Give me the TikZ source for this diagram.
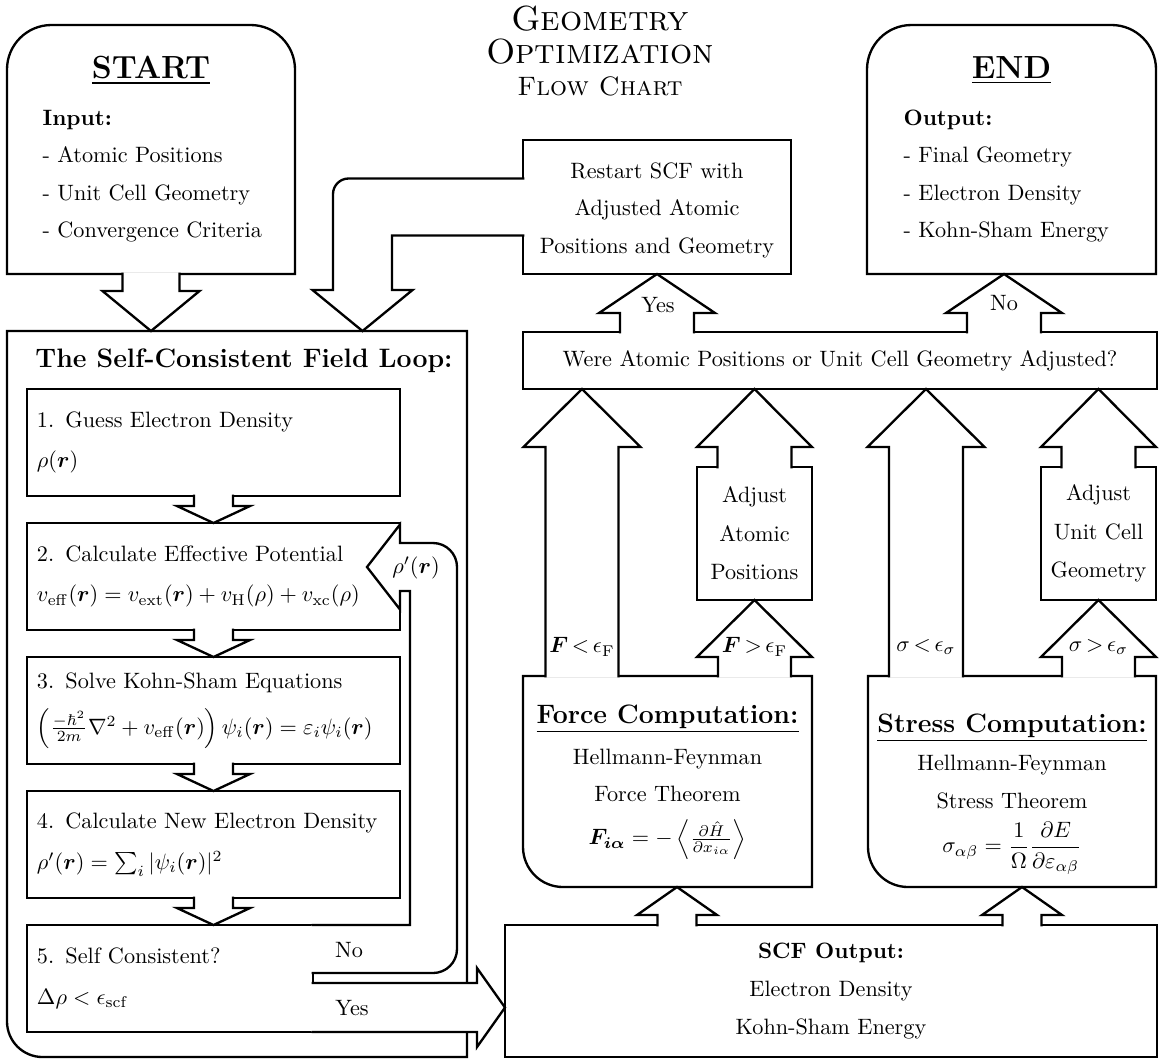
\documentclass[tikz,border=0pt]{standalone}
\usepackage{amsmath, amssymb}
\usepackage{bm}
\usetikzlibrary{calc}
\tikzset{
  box/.style={draw, rectangle, inner sep=0pt, outer sep=0pt, align=center},
  frame/.style={rectangle, inner sep=0pt, outer sep=0pt},
  stepbox/.style={box, align=left, inner xsep=4.5pt, minimum height=48.15pt, text width=158.85pt,
    execute at begin node={\relpenalty=10000\binoppenalty=10000}},
  fat/.style={draw, fill=white},
  titlefont/.style={font=\fontsize{15.7pt}{19pt}\selectfont\scshape, anchor=base}
}
% block arrows: base, tip, half shaft, half head, head length
\newcommand{\fatup}[5]{\draw[fat] ($(#1)+(-#3,1.3)$) -- ($(#2)+(-#3,#5)$) -- ($(#2)+(-#4,#5)$) -- (#2)
  -- ($(#2)+(#4,#5)$) -- ($(#2)+(#3,#5)$) -- ($(#1)+(#3,1.3)$);}
\newcommand{\fatdown}[5]{\draw[fat] ($(#1)+(-#3,-1.3)$) -- ($(#2)+(-#3,-#5)$) -- ($(#2)+(-#4,-#5)$) -- (#2)
  -- ($(#2)+(#4,-#5)$) -- ($(#2)+(#3,-#5)$) -- ($(#1)+(#3,-1.3)$);}
\newcommand{\fatright}[5]{\draw[fat] ($(#1)+(-1.3,-#3)$) -- ($(#2)+(-#5,-#3)$) -- ($(#2)+(-#5,-#4)$) -- (#2)
  -- ($(#2)+(-#5,#4)$) -- ($(#2)+(-#5,#3)$) -- ($(#1)+(-1.3,#3)$);}

\begin{document}
\begin{tikzpicture}[x=0.45pt, y=-0.45pt, line width=1.05pt]
  \useasboundingbox (0,0) rectangle (1162,1059);

  % title
  \node[titlefont] (title1) at (600,30) {Geometry};
  \node[titlefont] (title2) at (600,63) {Optimization};
  \node[font=\large\scshape, anchor=base] (title3) at (600,95) {Flow Chart};

  % start and end
  \node[frame, minimum width=129.6pt, minimum height=112.05pt] (start) at (151,149.5) {};
  \draw (start.south west) -- (start.west) [rounded corners=20pt] -- (start.north west)
    -- (start.north east) -- (start.east) [sharp corners] -- (start.south east) -- cycle;
  \node[font=\Large\bfseries, anchor=base] (starttitle) at (151,78) {\underline{START}};
  \node[font=\bfseries, anchor=base west] (input) at (34,125) {Input:};
  \foreach \t [count=\i] in {Atomic Positions, Unit Cell Geometry, Convergence Criteria}
    \node[anchor=base west] (input\i) at (34,125+37.5*\i) {- \t};

  \node[frame, minimum width=130.05pt, minimum height=112.05pt] (end) at (1011.5,149.5) {};
  \draw (end.south west) -- (end.west) [rounded corners=20pt] -- (end.north west)
    -- (end.north east) -- (end.east) [sharp corners] -- (end.south east) -- cycle;
  \node[font=\Large\bfseries, anchor=base] (endtitle) at (1011.5,78) {\underline{END}};
  \node[font=\bfseries, anchor=base west] (output) at (895,125) {Output:};
  \foreach \t [count=\i] in {Final Geometry, Electron Density, Kohn-Sham Energy}
    \node[anchor=base west] (output\i) at (895,125+37.5*\i) {- \t};

  \node[box, minimum width=120.6pt, minimum height=60.3pt] (restart) at (657,207) {};
  \node[align=center] (restarttext) at (657,210)
    {Restart SCF with\\[4.9pt] Adjusted Atomic\\[4.9pt] Positions and Geometry};
  \node[box, minimum width=285.3pt, minimum height=25.65pt] (were) at (840,360.5)
    {Were Atomic Positions or Unit Cell Geometry Adjusted?};

  % scf loop
  \node[frame, minimum width=207pt, minimum height=326.7pt] (loop) at (237,694) {};
  \draw (loop.north west) -- (loop.north east) -- (loop.south east) -- (loop.south)
    [rounded corners=16pt] -- (loop.south west) -- (loop.west) [sharp corners] -- cycle;
  \node[font=\large\bfseries, anchor=base] (looptitle) at (244,367) {The Self-Consistent Field Loop:};

  \node[stepbox] (s1) at (213.5,442.5) {1. Guess Electron Density\\[6.3pt] $\rho(\bm{r})$};
  \node[stepbox] (s2) at (213.5,576.5) {2. Calculate Effective Potential\\[6.3pt]
    $v_{\mathrm{eff}}(\bm{r}) = v_{\mathrm{ext}}(\bm{r}) + v_{\mathrm{H}}(\rho) + v_{\mathrm{xc}}(\rho)$};
  \node[stepbox] (s3) at (213.5,710.5) {3. Solve Kohn-Sham Equations\\[6.3pt]
    $\left(\frac{-\hbar^2}{2m}\nabla^2 + v_{\mathrm{eff}}(\bm{r})\right)\psi_i(\bm{r}) = \varepsilon_i\psi_i(\bm{r})$};
  \node[stepbox] (s4) at (213.5,844.5) {4. Calculate New Electron Density\\[6.3pt]
    $\rho'(\bm{r}) = \sum_i|\psi_i(\bm{r})|^2$};
  \node[stepbox, text width=119.7pt] (s5) at (170,978.5) {5. Self Consistent?\\[6.3pt]
    $\Delta\rho < \epsilon_{\mathrm{scf}}$};

  % force and stress
  \node[box, minimum width=51.75pt, minimum height=59.85pt] (adjpos) at (754.5,533.5)
    {Adjust\\[5.3pt] Atomic\\[5.3pt] Positions};
  \node[box, minimum width=51.75pt, minimum height=59.85pt] (adjcell) at (1098.5,533.5)
    {Adjust\\[5.3pt] Unit Cell\\[5.3pt] Geometry};

  \node[frame, minimum width=130.05pt, minimum height=94.95pt] (force) at (667.5,781.5) {};
  \draw (force.north west) -- (force.north east) -- (force.south east) -- (force.south)
    [rounded corners=18pt] -- (force.south west) -- (force.west) [sharp corners] -- cycle;
  \node[align=center] (forcetext) at (667.5,782)
    {\underline{\large\bfseries Force Computation:}\\[6.45pt] Hellmann-Feynman\\[4.65pt] Force Theorem\\[7.6pt]
     $\bm{F_{i\alpha}} = -\left\langle \frac{\partial\hat{H}}{\partial x_{i\alpha}} \right\rangle$};

  \node[frame, minimum width=129.6pt, minimum height=94.95pt] (stress) at (1012,781.5) {};
  \draw (stress.north west) -- (stress.north east) -- (stress.south east) -- (stress.south)
    [rounded corners=18pt] -- (stress.south west) -- (stress.west) [sharp corners] -- cycle;
  \node[align=center] (stresstext) at (1012,794)
    {\underline{\large\bfseries Stress Computation:}\\[5.1pt] Hellmann-Feynman\\[5.1pt] Stress Theorem\\[5.2pt]
     $\displaystyle\sigma_{\alpha\beta} = \frac{1}{\Omega}\frac{\partial E}{\partial\varepsilon_{\alpha\beta}}$};

  \node[box, minimum width=293.4pt, minimum height=59.4pt] (scfout) at (831,991)
    {\textbf{SCF Output:}\\[4.9pt] Electron Density\\[4.9pt] Kohn-Sham Energy};

  % arrows
  \fatdown{start.south}{start.south |- loop.north}{28.5}{48.5}{40}
  \coordinate (rx) at (362.5,0);
  \draw[fat] ($(restart.west)+(1.3,-28.5)$) [rounded corners=7pt] -- ($(rx |- restart.west)+(-29.5,-28.5)$)
    -- ($(rx |- loop.north)+(-29.5,-95)$) [sharp corners] -- ($(rx |- loop.north)+(-29.5,-41)$)
    -- ($(rx |- loop.north)+(-50,-41)$) -- (rx |- loop.north) -- ($(rx |- loop.north)+(50,-41)$)
    -- ($(rx |- loop.north)+(29.5,-41)$) -- ($(rx |- restart.west)+(29.5,28.5)$) -- ($(restart.west)+(1.3,28.5)$);

  \fatdown{s1.south}{s2.north}{19.5}{36.5}{17}
  \fatdown{s2.south}{s3.north}{19.5}{36.5}{17}
  \fatdown{s3.south}{s4.north}{19.5}{36.5}{17}
  \fatdown{s4.south}{s4.south |- s5.north}{19.5}{36.5}{17}

  \coordinate (rho) at (367,567);
  \draw[fat] ($(s5.north east)+(-1.3,48)$) -- ($(rho |- s5.north east)+(66,48)$)
    arc[start angle=90, end angle=0, radius=24] -- ($(rho)+(90,0)$)
    arc[start angle=0, end angle=-90, radius=24] -- ($(rho)+(33,-24)$)
    -- ($(rho)+(33,-42.5)$) -- (rho) -- ($(rho)+(33,42.5)$) -- ($(rho)+(33,24)$) -- ($(rho)+(43,24)$)
    -- ($(rho |- s5.north east)+(43,0)$) -- ($(s5.north east)+(-1.3,0)$);

  \coordinate (yesy) at (0,1007.5);
  \fatright{s5.east |- yesy}{scfout.west |- yesy}{24.5}{39.5}{28}

  \fatup{restart.south |- were.north}{restart.south}{37}{58}{39}
  \coordinate (nox) at (1004,0);
  \fatup{nox |- were.north}{nox |- end.south}{37}{58}{39}

  \coordinate (fltx) at (582,0);
  \fatup{fltx |- force.north}{fltx |- were.south}{36.5}{58.5}{58}
  \fatup{adjpos.south |- force.north}{adjpos.south}{36.5}{57.5}{57}
  \fatup{adjpos.north}{adjpos.north |- were.south}{37}{57.5}{58}
  \coordinate (sltx) at (926,0);
  \fatup{sltx |- stress.north}{sltx |- were.south}{37}{58.5}{58}
  \fatup{adjcell.south |- stress.north}{adjcell.south}{36.5}{57.5}{57}
  \fatup{adjcell.north}{adjcell.north |- were.south}{37}{57.5}{58}

  \coordinate (fupx) at (677,0);
  \coordinate (supx) at (1022,0);
  \fatup{fupx |- scfout.north}{fupx |- force.south}{19.5}{40}{28}
  \fatup{supx |- scfout.north}{supx |- stress.south}{19.5}{40}{28}

  % arrow labels
  \node (rholbl) at (416,568) {$\rho'(\bm{r})$};
  \node (nolbl) at (349,950) {No};
  \node (yeslbl) at (352,1008) {Yes};
  \node (yestop) at (658,305) {Yes};
  \node (notop) at (1004,303) {No};
  \node (fless) at (582,647) {$\bm{F}\,{<}\,\epsilon_{\mathrm{F}}$};
  \node (fmore) at (754.5,647) {$\bm{F}\,{>}\,\epsilon_{\mathrm{F}}$};
  \node (sless) at (926,647) {$\sigma\,{<}\,\epsilon_{\sigma}$};
  \node (smore) at (1098.5,647) {$\sigma\,{>}\,\epsilon_{\sigma}$};
\end{tikzpicture}
\end{document}
